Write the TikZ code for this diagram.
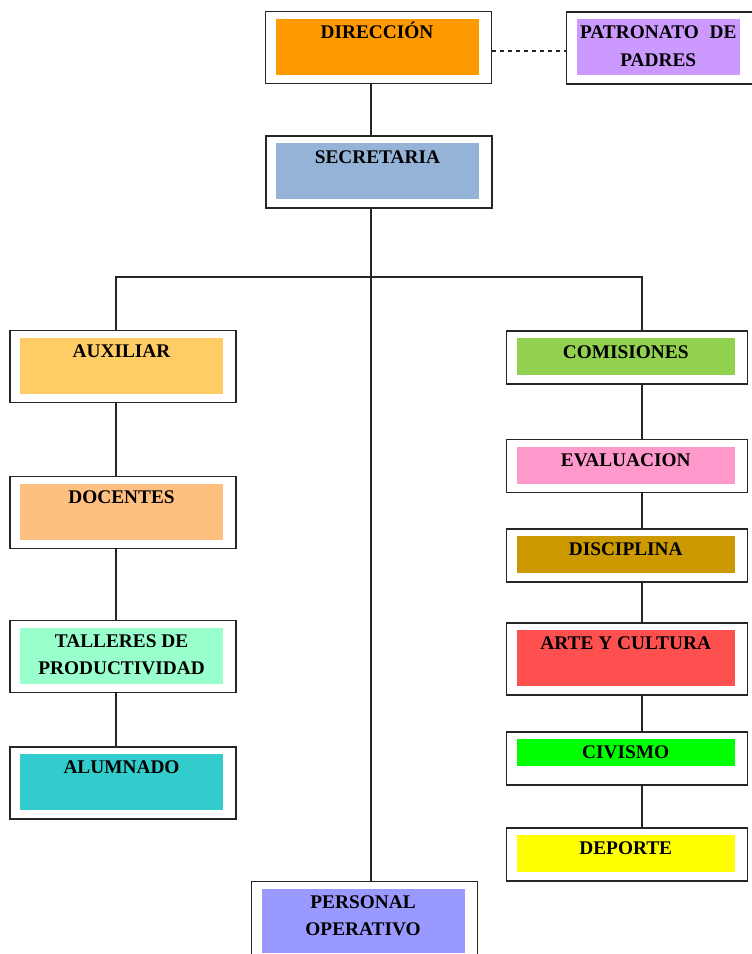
\documentclass[tikz,border=0pt]{standalone}
\usepackage{fontspec}
\setmainfont{Liberation Serif}
\usepackage{xcolor}

\definecolor{cDireccion}{HTML}{FF9900}
\definecolor{cPatronato}{HTML}{CC99FF}
\definecolor{cSecretaria}{HTML}{95B3D7}
\definecolor{cAuxiliar}{HTML}{FFCC66}
\definecolor{cDocentes}{HTML}{FFBF80}
\definecolor{cTalleres}{HTML}{99FFCC}
\definecolor{cAlumnado}{HTML}{33CCCC}
\definecolor{cComisiones}{HTML}{92D050}
\definecolor{cEvaluacion}{HTML}{FF99CC}
\definecolor{cDisciplina}{HTML}{CC9900}
\definecolor{cArte}{HTML}{FF5050}
\definecolor{cCivismo}{HTML}{00FF00}
\definecolor{cDeporte}{HTML}{FFFF00}
\definecolor{cPersonal}{HTML}{9999FF}

\begin{document}
\begin{tikzpicture}[
    x=0.75pt, y=-0.75pt,
    % cajas del organigrama
    fill gap/.store in=\fillgap,
    fill gap=6.75pt,
    unit/.style={
        rectangle,
        draw=black!85,
        line width=1.1pt,
        fill=white,
        minimum width=169.5pt,
        minimum height=54pt,
        inner sep=0pt,
        path picture={
            \fill[#1] ([xshift=7.5pt, yshift=-5.25pt]path picture bounding box.north west)
                rectangle ([xshift=-9.75pt, yshift=\fillgap]path picture bounding box.south east);
        }
    },
    low/.style={minimum height=39.75pt},
    wide/.style={minimum width=180.75pt},
    % texto de las cajas
    unit text/.style={
        anchor=base,
        inner sep=0pt,
        xshift=-1.1pt,
        yshift=-20.75pt,
        align=center,
        font=\bfseries\fontsize{14.5}{20.5}\selectfont
    },
    two lines/.style={unit text, yshift=-20.5pt},
    % lineas
    link/.style={draw=black!85, line width=0.9pt}
]

\useasboundingbox (0,0) rectangle (751,954);

% -------------------------------
% Dirección y secretaría
\node[unit=cDireccion, label={[unit text, name=dir-txt]north:DIRECCIÓN}] (dir) at (378.5,47.5) {};
\node[unit=cPatronato, minimum width=139.5pt,
      label={[two lines, name=pat-txt]north:PATRONATO\hspace{0.55em}DE\\PADRES}] (pat) at (659.7,48) {};
\node[unit=cSecretaria, label={[unit text, name=sec-txt]north:SECRETARIA}] (sec) at (378.9,172.2) {};

% -------------------------------
% Columna izquierda
\foreach \n/\y/\col/\txt in {aux/366.5/cAuxiliar/AUXILIAR, doc/512.5/cDocentes/DOCENTES, alu/783/cAlumnado/ALUMNADO}
{
    \node[unit=\col, label={[unit text, name=\n-txt]north:\txt}] (\n) at (123,\y) {};
}
\node[unit=cTalleres, label={[two lines, name=tal-txt]north:TALLERES DE\\PRODUCTIVIDAD}] (tal) at (123,656.7) {};

% -------------------------------
% Columna derecha (comisiones)
\foreach \n/\y/\col/\txt in {com/357.7/cComisiones/COMISIONES, eva/466.2/cEvaluacion/EVALUACION,
    dis/555.3/cDisciplina/DISCIPLINA, dep/854.5/cDeporte/DEPORTE}
{
    \node[unit=\col, wide, low, label={[unit text, name=\n-txt]north:\txt}] (\n) at (627.2,\y) {};
}
\node[unit=cArte, wide, label={[unit text, name=art-txt]north:ARTE Y CULTURA}] (art) at (627.2,658.8) {};
\node[unit=cCivismo, wide, low, fill gap=14.25pt,
      label={[unit text, name=civ-txt]north:CIVISMO}] (civ) at (627.2,758.3) {};

% -------------------------------
% Personal operativo
\node[unit=cPersonal, minimum height=60pt,
      label={[two lines, name=per-txt]north:PERSONAL\\OPERATIVO}] (per) at (364.5,921.7) {};

% -------------------------------
% Lineas de mando
\coordinate (trunk) at (371,277);
\coordinate (lbranch) at (116,277);
\coordinate (rbranch) at (642,277);

\draw[link] (trunk |- dir.south) -- (trunk |- sec.north);
\draw[link] (trunk |- sec.south) -- (trunk |- per.north);
\draw[link] (lbranch |- aux.north) -- (lbranch) -- (rbranch) -- (rbranch |- com.north);
\foreach \a/\b in {aux/doc, doc/tal, tal/alu}
    \draw[link] (lbranch |- \a.south) -- (lbranch |- \b.north);
\foreach \a/\b in {com/eva, eva/dis, dis/art, art/civ, civ/dep}
    \draw[link] (rbranch |- \a.south) -- (rbranch |- \b.north);

% Relación con el patronato
\draw[link, dashed] ([yshift=-2.6pt]dir.east) -- ([yshift=-2.6pt]dir.east -| pat.west);

\end{tikzpicture}
\end{document}
